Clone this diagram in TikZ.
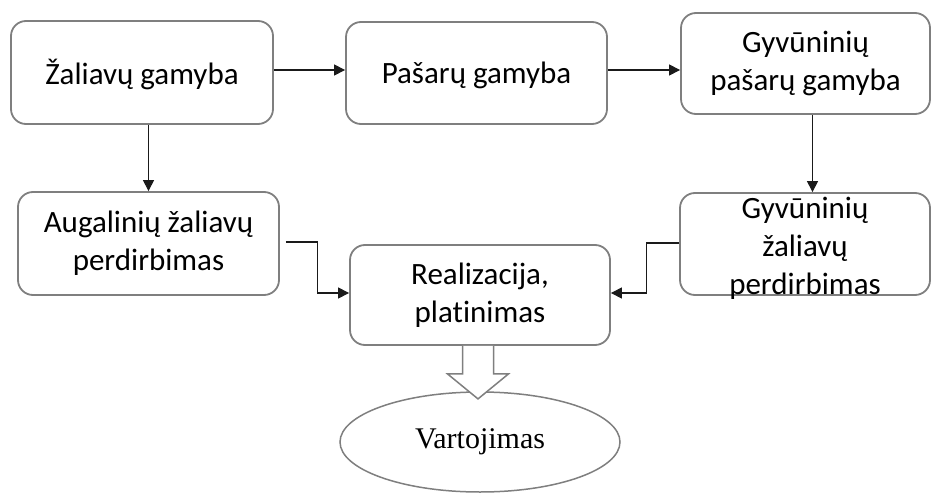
\documentclass[tikz,border=0pt]{standalone}
\usepackage{fontspec}
\setmainfont{Carlito}[Ligatures={NoCommon}]
\newfontfamily\serifface{Liberation Serif}
\usetikzlibrary{arrows.meta,calc,shapes.geometric}
\definecolor{edgegray}{HTML}{7F7F7F}
\definecolor{inkline}{HTML}{1A1A1A}
\tikzset{
  procbox/.style={draw=edgegray, line width=1.8pt, rounded corners=15pt, fill=white, inner sep=0pt},
  boxtext/.style={font=\fontsize{31}{38}\selectfont, align=center, text=black, inner sep=0pt},
  conn/.style={draw=inkline, line width=1.1pt, -{Triangle[length=11pt,width=11pt]}},
  hollowarrow/.style={draw=edgegray, line width=1.5pt, fill=white, line join=miter},
  endstate/.style={ellipse, draw=edgegray, line width=1.5pt, fill=white, inner sep=0pt,
    font=\serifface\fontsize{30}{36}\selectfont}
}
\begin{document}
\begin{tikzpicture}[x=1pt,y=-1pt]
\useasboundingbox (0,0) rectangle (932,495);

% process boxes (centre, size)
\node[procbox, minimum width=262pt, minimum height=103pt] (b1) at (142,72.5) {};
\node[procbox, minimum width=261pt, minimum height=102pt] (b2) at (476.5,73) {};
\node[procbox, minimum width=249pt, minimum height=101pt] (b3) at (805.5,63.5) {};
\node[procbox, minimum width=261pt, minimum height=103pt] (b4) at (148.5,243.5) {};
\node[procbox, minimum width=260pt, minimum height=100pt] (b5) at (480,295) {};
\node[procbox, minimum width=250pt, minimum height=102pt] (b6) at (805,244) {};

% box labels
\node[boxtext] (t1) at ($(b1)+(0,2)$) {Žaliavų gamyba};
\node[boxtext] (t2) at ($(b2)+(0,2)$) {Pašarų gamyba};
\node[boxtext] (t3) at (b3) {Gyvūninių\\pašarų gamyba};
\node[boxtext] (t4) at (b4) {Augalinių žaliavų\\perdirbimas};
\node[boxtext] (t5) at (b5) {Realizacija,\\platinimas};
\node[boxtext] (t6) at ($(b6)+(0,4)$) {Gyvūninių\\žaliavų\\perdirbimas};

% final consumption
\node[endstate, minimum width=280pt, minimum height=100pt] (v) at (480,442) {Vartojimas};

% connectors
\draw[conn] ([yshift=2.5pt]b1.east) -- ([yshift=2.5pt]b1.east -| b2.west);
\draw[conn] ([yshift=3pt]b2.east) -- ([yshift=3pt]b2.east -| b3.west);
\draw[conn] (b4.north |- b1.south) -- (b4.north);
\draw[conn] ([xshift=7pt]b3.south) -- ([xshift=7pt]b3.south |- b6.north);
\draw[conn] ([xshift=6pt,yshift=1.5pt]b4.east) -- ++(32,0) |- ([yshift=2pt]b5.west);
\draw[conn] ([yshift=1pt]b6.west) -- ++(-33,0) |- ([yshift=2pt]b5.east);

% hollow block arrow from distribution to consumption
\coordinate (ha) at ($(b5.south)+(-2,0)$);
\draw[hollowarrow] ($(ha)+(-15.5,0)$) -- ($(ha)+(-15.5,28)$) -- ($(ha)+(-30.5,28)$)
  -- ($(ha)+(0,53)$) -- ($(ha)+(30.5,28)$) -- ($(ha)+(15.5,28)$) -- ($(ha)+(15.5,0)$);
\end{tikzpicture}
\end{document}
